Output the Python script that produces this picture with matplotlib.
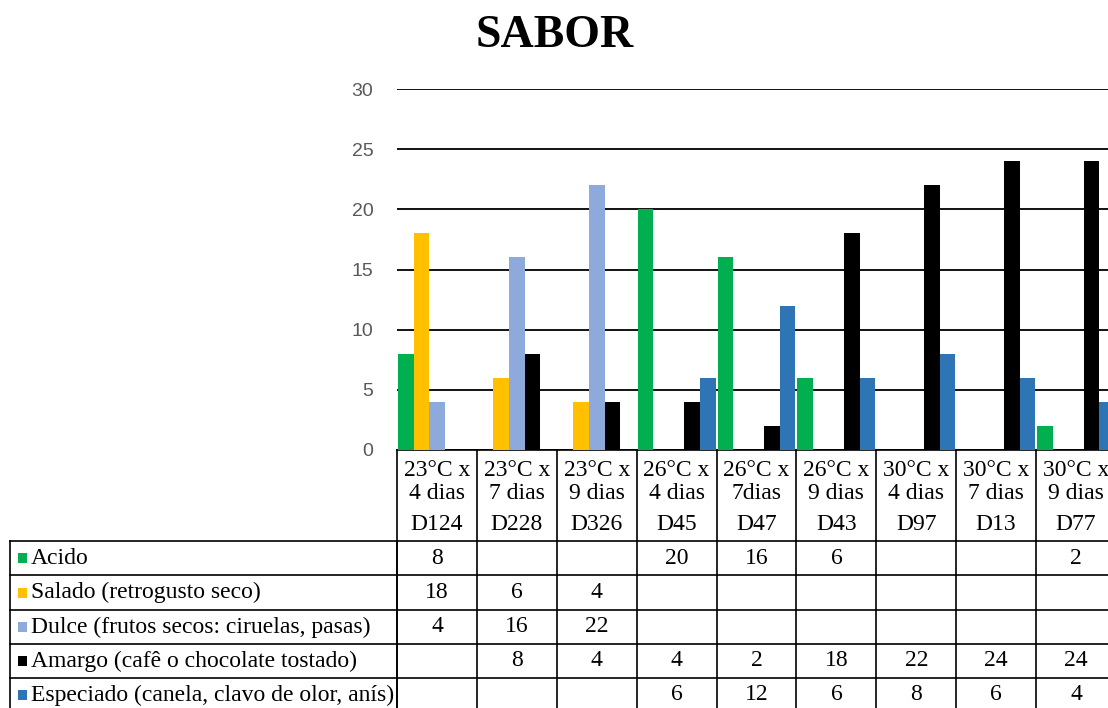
import numpy as np
import matplotlib
matplotlib.use('Agg')
import matplotlib.pyplot as plt
from matplotlib.transforms import blended_transform_factory
from matplotlib.patches import Rectangle

# datos
temps = ['23°C x\n4 dias', '23°C x\n7 dias', '23°C x\n9 dias', '26°C x\n4 dias', '26°C x\n7dias',
         '26°C x\n9 dias', '30°C x\n4 dias', '30°C x\n7 dias', '30°C x\n9 dias']
codigos = ['D124', 'D228', 'D326', 'D45', 'D47', 'D43', 'D97', 'D13', 'D77']
series = ['Acido', 'Salado (retrogusto seco)', 'Dulce (frutos secos: ciruelas, pasas)',
          'Amargo (cafê o chocolate tostado)', 'Especiado (canela, clavo de olor, anís)']
acido = [8, None, None, 20, 16, 6, None, None, 2]
salado = [18, 6, 4, None, None, None, None, None, None]
dulce = [4, 16, 22, None, None, None, None, None, None]
amargo = [None, 8, 4, 4, 2, 18, 22, 24, 24]
especiado = [None, None, None, 6, 12, 6, 8, 6, 4]
valores = [acido, salado, dulce, amargo, especiado]
colores = ['#00B050', '#FFC000', '#8EA9DB', '#000000', '#2E75B6']

W, H = 1108, 708
def fx(px): return px / W
def fy(py): return 1 - py / H

serif = 'Liberation Serif'
fs = 17

fig = plt.figure(figsize=(W / 100, H / 100), dpi=100)
ax = fig.add_axes([fx(397), fy(450), fx(1116) - fx(397), fy(89) - fy(450)])

n = len(codigos)
x = np.arange(n)
bw = 0.195
for k, (vals, c) in enumerate(zip(valores, colores)):
    v = np.array([np.nan if a is None else a for a in vals], dtype=float)
    ax.bar(x + (k - 2) * bw, v, width=bw, color=c, zorder=3)

ax.set_xlim(-0.5, n - 0.5)
ax.set_ylim(0, 30)
ax.set_yticks(range(0, 31, 5))
ax.yaxis.grid(True, color='black', lw=1.3, zorder=0)
ax.set_axisbelow(True)
ax.set_xticks([])
ax.tick_params(axis='y', length=0, pad=17, labelsize=14, labelcolor='#595959')
for lab in ax.get_yticklabels():
    lab.set_family('Liberation Sans')
for s in ax.spines.values():
    s.set_visible(False)

fig.text(fx(555), fy(36), 'SABOR', ha='center', va='center', fontsize=33,
         fontweight='bold', family=serif)

# tabla de datos
tr = blended_transform_factory(ax.transData, fig.transFigure)
lw = 1.2
# caja de etiquetas de categoria
ax.plot([-0.5, n - 0.5], [fy(450), fy(450)], transform=tr, color='black', lw=lw, clip_on=False)
for b in np.arange(n + 1) - 0.5:
    ax.plot([b, b], [fy(450), fy(712)], transform=tr, color='black', lw=lw, clip_on=False)
filas = [541, 575, 610, 644, 678]
for py in filas:
    fig.add_artist(plt.Line2D([fx(10), fx(1120)], [fy(py), fy(py)], color='black', lw=lw))
fig.add_artist(plt.Line2D([fx(10), fx(10)], [fy(541), fy(712)], color='black', lw=lw))
fig.add_artist(plt.Line2D([fx(397), fx(397)], [fy(541), fy(712)], color='black', lw=lw))

for i in range(n):
    fig.text(i, fy(482), temps[i], transform=tr, ha='center', va='center',
             fontsize=fs, family=serif, linespacing=1.12)
    fig.text(i, fy(524), codigos[i], transform=tr, ha='center', va='center',
             fontsize=fs, family=serif)

for r, (nombre, vals, c) in enumerate(zip(series, valores, colores)):
    yc = (filas[r] + (filas[r + 1] if r + 1 < len(filas) else 712)) / 2
    fig.add_artist(Rectangle((fx(18), fy(yc + 5)), fx(9), fy(yc - 5) - fy(yc + 5),
                             facecolor=c, edgecolor='none'))
    fig.text(fx(31), fy(yc), nombre, ha='left', va='center', fontsize=fs, family=serif)
    for i, v in enumerate(vals):
        if v is not None:
            fig.text(i, fy(yc), str(v), transform=tr, ha='center', va='center',
                     fontsize=fs, family=serif)

fig.savefig('out.png', dpi=100)
